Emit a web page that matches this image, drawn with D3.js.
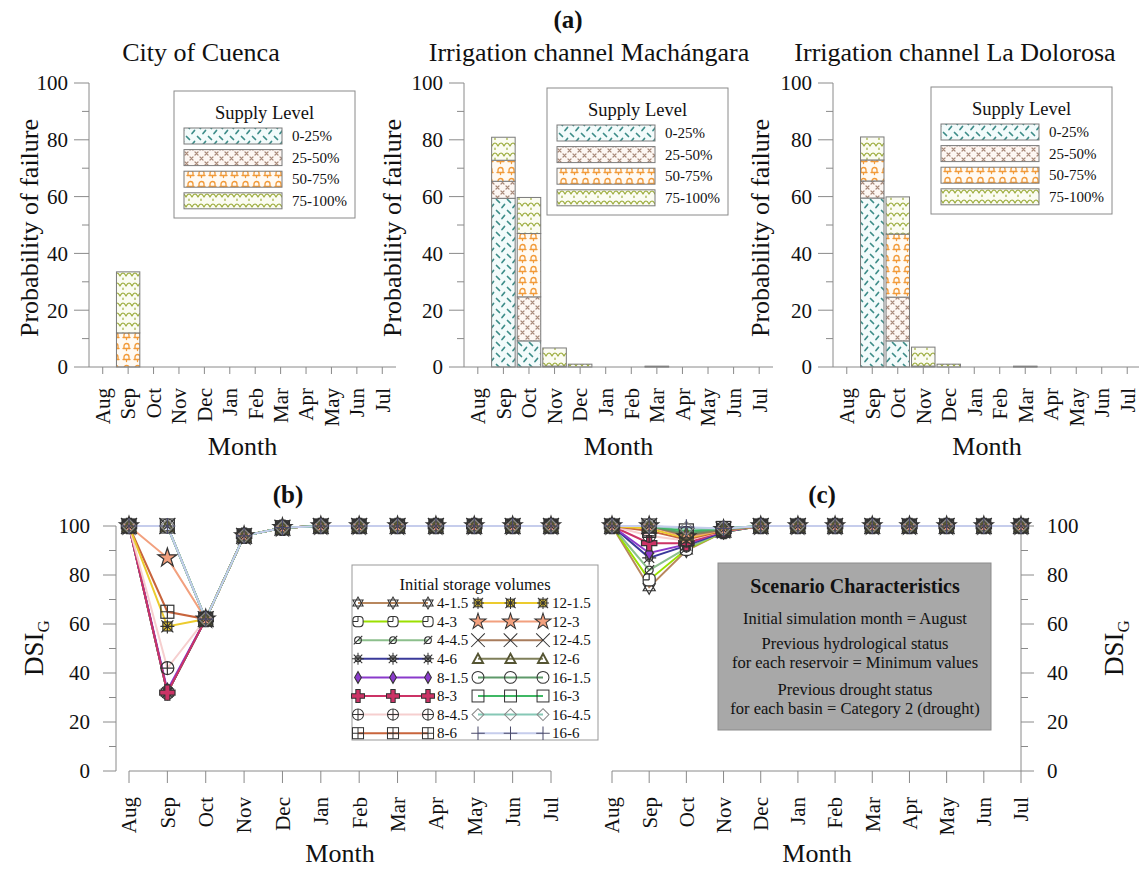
<!DOCTYPE html>
<html>
<head>
<meta charset="utf-8">
<script src="https://cdn.jsdelivr.net/npm/d3@7"></script>
<style>
  body { margin: 0; background: #fff; }
  text { font-family: "Liberation Serif", "Times New Roman", serif; fill: #111; }
</style>
</head>
<body>
<div class="canvas"></div>
<script>
const months = ["Aug", "Sep", "Oct", "Nov", "Dec", "Jan", "Feb", "Mar", "Apr", "May", "Jun", "Jul"];
const supplyLevels = ["0-25%", "25-50%", "50-75%", "75-100%"];
const pctTicks = [0, 20, 40, 60, 80, 100];

// probability of failure (%), one array per supply level
const cuenca0to25   = [0, 0, 0, 0, 0, 0, 0, 0, 0, 0, 0, 0];
const cuenca25to50  = [0, 0, 0, 0, 0, 0, 0, 0, 0, 0, 0, 0];
const cuenca50to75  = [0, 12, 0, 0, 0, 0, 0, 0, 0, 0, 0, 0];
const cuenca75to100 = [0, 21.5, 0, 0, 0, 0, 0, 0, 0, 0, 0, 0];

const mach0to25   = [0, 59.4, 9.2, 0.3, 0, 0, 0, 0.1, 0, 0, 0, 0];
const mach25to50  = [0, 6.0, 15.5, 0, 0, 0, 0, 0, 0, 0, 0, 0];
const mach50to75  = [0, 7.4, 22.3, 0, 0, 0, 0, 0, 0, 0, 0, 0];
const mach75to100 = [0, 8.1, 12.7, 6.4, 1.0, 0, 0, 0.2, 0, 0, 0, 0];

const dolo0to25   = [0, 59.5, 9.2, 0.3, 0, 0, 0, 0.1, 0, 0, 0, 0];
const dolo25to50  = [0, 6.0, 15.4, 0, 0, 0, 0, 0, 0, 0, 0, 0];
const dolo50to75  = [0, 7.4, 22.2, 0, 0, 0, 0, 0, 0, 0, 0, 0];
const dolo75to100 = [0, 8.1, 13.1, 6.7, 1.0, 0, 0, 0.2, 0, 0, 0, 0];

// DSI_G series, initial storage volumes
const storageVolumes = ["4-1.5", "4-3", "4-4.5", "4-6", "8-1.5", "8-3", "8-4.5", "8-6",
                        "12-1.5", "12-3", "12-4.5", "12-6", "16-1.5", "16-3", "16-4.5", "16-6"];

const dsiB = [
  [100, 32, 62, 96, 99.3, 100, 100, 100, 100, 100, 100, 100],
  [100, 32, 62, 96, 99.3, 100, 100, 100, 100, 100, 100, 100],
  [100, 32, 62, 96, 99.3, 100, 100, 100, 100, 100, 100, 100],
  [100, 32, 62, 96, 99.3, 100, 100, 100, 100, 100, 100, 100],
  [100, 33, 62, 96, 99.3, 100, 100, 100, 100, 100, 100, 100],
  [100, 32, 62, 96, 99.3, 100, 100, 100, 100, 100, 100, 100],
  [100, 42, 62, 96, 99.3, 100, 100, 100, 100, 100, 100, 100],
  [100, 65, 62, 96, 99.3, 100, 100, 100, 100, 100, 100, 100],
  [100, 59, 62, 96, 99.3, 100, 100, 100, 100, 100, 100, 100],
  [100, 87, 62, 96, 99.3, 100, 100, 100, 100, 100, 100, 100],
  [100, 100, 62, 96, 99.3, 100, 100, 100, 100, 100, 100, 100],
  [100, 100, 62, 96, 99.3, 100, 100, 100, 100, 100, 100, 100],
  [100, 100, 62, 96, 99.3, 100, 100, 100, 100, 100, 100, 100],
  [100, 100, 62, 96, 99.3, 100, 100, 100, 100, 100, 100, 100],
  [100, 100, 62, 96, 99.3, 100, 100, 100, 100, 100, 100, 100],
  [100, 100, 62, 96, 99.3, 100, 100, 100, 100, 100, 100, 100]
];

const dsiC = [
  [100, 75, 90, 97.5, 100, 100, 100, 100, 100, 100, 100, 100],
  [100, 78, 90.5, 97.5, 100, 100, 100, 100, 100, 100, 100, 100],
  [100, 82, 91, 97.5, 100, 100, 100, 100, 100, 100, 100, 100],
  [100, 87, 92, 97.5, 100, 100, 100, 100, 100, 100, 100, 100],
  [100, 89, 92.5, 98, 100, 100, 100, 100, 100, 100, 100, 100],
  [100, 93, 93, 98, 100, 100, 100, 100, 100, 100, 100, 100],
  [100, 96, 94, 98, 100, 100, 100, 100, 100, 100, 100, 100],
  [100, 98, 94.5, 98, 100, 100, 100, 100, 100, 100, 100, 100],
  [100, 99, 95, 98.5, 100, 100, 100, 100, 100, 100, 100, 100],
  [100, 100, 95.5, 98.5, 100, 100, 100, 100, 100, 100, 100, 100],
  [100, 100, 96, 98.5, 100, 100, 100, 100, 100, 100, 100, 100],
  [100, 100, 96.5, 98.5, 100, 100, 100, 100, 100, 100, 100, 100],
  [100, 100, 97, 99, 100, 100, 100, 100, 100, 100, 100, 100],
  [100, 100, 98, 99, 100, 100, 100, 100, 100, 100, 100, 100],
  [100, 100, 99, 99, 100, 100, 100, 100, 100, 100, 100, 100],
  [100, 100, 99.5, 99, 100, 100, 100, 100, 100, 100, 100, 100]
];

const scenarioLines = [
  "Initial simulation month = August",
  "Previous hydrological status",
  "for each reservoir = Minimum values",
  "Previous drought status",
  "for each basin = Category 2 (drought)"
];

// styles
const seriesColors = ["#b8875e", "#9be000", "#8cbf8c", "#3a3a9a", "#8a3acb", "#cc3366", "#f6cfcf", "#c8643c",
                      "#eccb2e", "#f2a07e", "#a87c5c", "#7f7f5a", "#5f9a6a", "#3fb864", "#86c8b6", "#c6cdec"];
const seriesMarkers = ["hexagram", "circleQ", "slash", "sun", "diamondF", "crossF", "circlePlus", "squareGrid",
                       "boxStar", "star", "x", "triangle", "circle", "square", "diamond", "plus"];
const axisGrey = "#8a8a8a";

const svg = d3.select(".canvas").append("svg").attr("width", 1139).attr("height", 870);
const defs = svg.append("defs");

let addPattern = (id, w, h, bg, d, color, sw) => {
  const p = defs.append("pattern").attr("id", id).attr("patternUnits", "userSpaceOnUse")
    .attr("width", w).attr("height", h);
  p.append("rect").attr("width", w).attr("height", h).attr("fill", bg);
  p.append("path").attr("d", d).attr("fill", "none").attr("stroke", color)
    .attr("stroke-width", sw).attr("stroke-linecap", "round");
};
addPattern("lv0", 11, 11, "#f3fbfb", "M1.5,1.5 L4.5,4.5 M7,9.5 L9.5,6.5", "#3c8c88", 1.7);
addPattern("lv1", 10, 10, "#fdf7f3", "M1,1 L4,4 M4,1 L1,4 M6,6 L9,9 M9,6 L6,9", "#a98a7a", 1.2);
addPattern("lv2", 11, 11, "#fffaf3", "M3,7.5 L3,5 A2.5,2.5 0 0 1 8,5 L8,7.5 M2,7.5 L9,7.5 M5.5,8 L5.5,9.5", "#f29a38", 1.3);
addPattern("lv3", 12, 10, "#fbfcf2", "M0,6 Q3,0 6,6 M6,6 Q9,0 12,6 M3,8 L3,9.5", "#9cac3c", 1.2);

// ---------- (a) bar panels ----------
svg.append("text").attr("x", 568).attr("y", 28).attr("text-anchor", "middle")
  .attr("font-size", 25).attr("font-weight", "bold").text("(a)");

const topPanels = [
  { title: "City of Cuenca", levels: [cuenca0to25, cuenca25to50, cuenca50to75, cuenca75to100],
    x0: 89, x1: 396, titleX: 201, ylabX: 38, legendX: 174, legendY: 91 },
  { title: "Irrigation channel Machángara", levels: [mach0to25, mach25to50, mach50to75, mach75to100],
    x0: 464, x1: 773, titleX: 589, ylabX: 401, legendX: 547, legendY: 88 },
  { title: "Irrigation channel La Dolorosa", levels: [dolo0to25, dolo25to50, dolo50to75, dolo75to100],
    x0: 833, x1: 1141, titleX: 955, ylabX: 769, legendX: 931, legendY: 87 }
];

const yTop = d3.scaleLinear().domain([0, 100]).range([367, 83]);

topPanels.forEach((p) => {
  const g = svg.append("g");
  const x = d3.scaleBand().domain(months).range([p.x0, p.x1]).padding(0.08);

  const table = months.map((m, i) => {
    const row = { month: m };
    supplyLevels.forEach((k, j) => { row[k] = p.levels[j][i]; });
    return row;
  });
  const stacked = d3.stack().keys(supplyLevels)(table);

  stacked.forEach((layer, j) => {
    g.append("g").selectAll("rect")
      .data(layer.filter((d) => d[1] - d[0] > 0))
      .enter()
      .append("rect")
      .attr("x", (d) => x(d.data.month))
      .attr("width", x.bandwidth())
      .attr("y", (d) => yTop(d[1]))
      .attr("height", (d) => yTop(d[0]) - yTop(d[1]))
      .attr("fill", "url(#lv" + j + ")")
      .attr("stroke", "#7a7a7a")
      .attr("stroke-width", 1);
  });

  // y axis
  g.append("line").attr("x1", p.x0).attr("x2", p.x0).attr("y1", yTop(100)).attr("y2", yTop(0))
    .attr("stroke", axisGrey);
  d3.range(0, 101, 10).forEach((v) => {
    const major = v % 20 == 0;
    g.append("line").attr("x1", p.x0 - (major ? 15 : 7)).attr("x2", p.x0)
      .attr("y1", yTop(v)).attr("y2", yTop(v)).attr("stroke", axisGrey);
  });
  pctTicks.forEach((v) => {
    g.append("text").attr("x", p.x0 - 21).attr("y", yTop(v)).attr("dy", "0.35em")
      .attr("text-anchor", "end").attr("font-size", 21).text(v);
  });

  // x axis
  g.append("line").attr("x1", p.x0).attr("x2", p.x1).attr("y1", yTop(0)).attr("y2", yTop(0))
    .attr("stroke", axisGrey);
  months.forEach((m) => {
    const cx = x(m) + x.bandwidth() / 2;
    g.append("line").attr("x1", cx).attr("x2", cx).attr("y1", yTop(0)).attr("y2", yTop(0) + 7)
      .attr("stroke", axisGrey);
    g.append("text").attr("transform", "translate(" + cx + ",388) rotate(-90)")
      .attr("dy", "0.35em").attr("text-anchor", "end").attr("font-size", 21).text(m);
  });

  g.append("text").attr("x", p.titleX).attr("y", 61).attr("text-anchor", "middle")
    .attr("font-size", 26).text(p.title);
  g.append("text").attr("x", (p.x0 + p.x1) / 2).attr("y", 455).attr("text-anchor", "middle")
    .attr("font-size", 26).text("Month");
  g.append("text").attr("transform", "translate(" + p.ylabX + ",228) rotate(-90)")
    .attr("text-anchor", "middle").attr("font-size", 26).text("Probability of failure");

  // legend
  const lg = g.append("g").attr("transform", "translate(" + p.legendX + "," + p.legendY + ")");
  lg.append("rect").attr("width", 181).attr("height", 127).attr("fill", "#fff").attr("stroke", axisGrey);
  lg.append("text").attr("x", 90.5).attr("y", 28).attr("text-anchor", "middle").attr("font-size", 18.5)
    .text("Supply Level");
  supplyLevels.forEach((k, j) => {
    const ry = 37 + j * 21.6;
    lg.append("rect").attr("x", 10).attr("y", ry).attr("width", 98).attr("height", 16)
      .attr("fill", "url(#lv" + j + ")").attr("stroke", "#7a7a7a");
    lg.append("text").attr("x", 118).attr("y", ry + 8).attr("dy", "0.35em").attr("font-size", 15).text(k);
  });
});

// ---------- markers ----------
let drawMarker = (g, type, color) => {
  const s = "#333";
  const add = (tag) => g.append(tag).attr("fill", "none").attr("stroke", s).attr("stroke-width", 1.2);
  switch (type) {
    case "hexagram":
      add("path").attr("d", "M0,-7 L6,3.5 L-6,3.5 Z M0,7 L6,-3.5 L-6,-3.5 Z").attr("fill", "#fff");
      break;
    case "circleQ":
      add("rect").attr("x", -6).attr("y", -6).attr("width", 12).attr("height", 12).attr("rx", 4).attr("fill", "#fff");
      add("path").attr("d", "M0,0 L0,-6 M0,0 L-6,0");
      break;
    case "slash":
      add("circle").attr("r", 4);
      add("path").attr("d", "M-5,5 L5,-5");
      break;
    case "sun":
      add("circle").attr("r", 3.5).attr("fill", "#fff");
      add("path").attr("d", "M-7,0 L7,0 M0,-7 L0,7 M-5,-5 L5,5 M-5,5 L5,-5");
      break;
    case "diamondF":
      add("path").attr("d", "M0,-7 L4,0 L0,7 L-4,0 Z").attr("fill", color);
      break;
    case "crossF":
      add("path").attr("d", d3.symbol().type(d3.symbolCross).size(130)()).attr("fill", color);
      break;
    case "circlePlus":
      add("circle").attr("r", 6.5);
      add("path").attr("d", "M-6.5,0 L6.5,0 M0,-6.5 L0,6.5");
      break;
    case "squareGrid":
      add("rect").attr("x", -6.5).attr("y", -6.5).attr("width", 13).attr("height", 13);
      add("path").attr("d", "M-6.5,0 L6.5,0 M0,-6.5 L0,6.5");
      break;
    case "boxStar":
      add("rect").attr("x", -4.5).attr("y", -4.5).attr("width", 9).attr("height", 9).attr("fill", color);
      add("path").attr("d", "M-7,0 L7,0 M0,-7 L0,7 M-6,-6 L6,6 M-6,6 L6,-6");
      break;
    case "star":
      add("path").attr("d", d3.symbol().type(d3.symbolStar).size(110)()).attr("fill", color);
      break;
    case "x":
      add("path").attr("d", "M-8,-8 L8,8 M-8,8 L8,-8");
      break;
    case "triangle":
      add("path").attr("d", "M0,-6 L6,5 L-6,5 Z").attr("stroke", "#555533").attr("stroke-width", 2.2);
      break;
    case "circle":
      add("circle").attr("r", 7);
      break;
    case "square":
      add("rect").attr("x", -7).attr("y", -7).attr("width", 14).attr("height", 14);
      break;
    case "diamond":
      add("path").attr("d", "M0,-7 L7,0 L0,7 L-7,0 Z").attr("stroke", "#888");
      break;
    case "plus":
      add("path").attr("d", "M-8,0 L8,0 M0,-8 L0,8").attr("stroke", "#4a4a6a");
      break;
  }
};

// ---------- (b) and (c) line panels ----------
const yLow = d3.scaleLinear().domain([0, 100]).range([771, 526]);

const lowPanels = [
  { label: "(b)", labelX: 288, values: dsiB, x0: 129, x1: 551, axisX: 116, side: "left", dsiX: 43, monthX: 340 },
  { label: "(c)", labelX: 822, values: dsiC, x0: 612, x1: 1021, axisX: 1021, side: "right", dsiX: 1123, monthX: 817 }
];

lowPanels.forEach((p) => {
  const g = svg.append("g");
  const x = d3.scalePoint().domain(months).range([p.x0, p.x1]);
  const dir = p.side == "left" ? -1 : 1;

  g.append("text").attr("x", p.labelX).attr("y", 503).attr("text-anchor", "middle")
    .attr("font-size", 25).attr("font-weight", "bold").text(p.label);

  // y axis
  g.append("line").attr("x1", p.axisX).attr("x2", p.axisX).attr("y1", yLow(100)).attr("y2", yLow(0))
    .attr("stroke", axisGrey);
  d3.range(0, 101, 10).forEach((v) => {
    const major = v % 20 == 0;
    g.append("line").attr("x1", p.axisX).attr("x2", p.axisX + dir * (major ? 13 : 7))
      .attr("y1", yLow(v)).attr("y2", yLow(v)).attr("stroke", axisGrey);
  });
  pctTicks.forEach((v) => {
    g.append("text").attr("x", p.axisX + dir * 26).attr("y", yLow(v)).attr("dy", "0.35em")
      .attr("text-anchor", p.side == "left" ? "end" : "start").attr("font-size", 21).text(v);
  });
  const dl = g.append("text").attr("transform", "translate(" + p.dsiX + ",648) rotate(-90)")
    .attr("text-anchor", "middle").attr("font-size", 27);
  dl.append("tspan").text("DSI");
  dl.append("tspan").attr("font-size", 17).attr("dy", 6).text("G");

  // x axis
  g.append("line").attr("x1", p.x0).attr("x2", p.x1).attr("y1", yLow(0)).attr("y2", yLow(0))
    .attr("stroke", axisGrey);
  months.forEach((m) => {
    g.append("line").attr("x1", x(m)).attr("x2", x(m)).attr("y1", yLow(0)).attr("y2", yLow(0) + 12)
      .attr("stroke", axisGrey);
    g.append("text").attr("transform", "translate(" + x(m) + ",797) rotate(-90)")
      .attr("dy", "0.35em").attr("text-anchor", "end").attr("font-size", 21).text(m);
  });
  g.append("text").attr("x", p.monthX).attr("y", 862).attr("text-anchor", "middle")
    .attr("font-size", 26).text("Month");

  // series
  const line = d3.line().x((d, i) => x(months[i])).y((d) => yLow(d));
  p.values.forEach((vals, k) => {
    g.append("path").datum(vals).attr("d", line).attr("fill", "none")
      .attr("stroke", seriesColors[k]).attr("stroke-width", 2);
  });
  p.values.forEach((vals, k) => {
    vals.forEach((v, i) => {
      const mg = g.append("g").attr("transform", "translate(" + x(months[i]) + "," + yLow(v) + ")");
      drawMarker(mg, seriesMarkers[k], seriesColors[k]);
    });
  });
});

// legend of (b)
const leg = svg.append("g").attr("transform", "translate(352,565)");
leg.append("rect").attr("width", 246).attr("height", 175).attr("fill", "#fff").attr("stroke", "#999");
leg.append("text").attr("x", 123).attr("y", 25).attr("text-anchor", "middle").attr("font-size", 16.5)
  .text("Initial storage volumes");
storageVolumes.forEach((name, k) => {
  const col = Math.floor(k / 8);
  const row = k % 8;
  const ly = 38 + row * 18.6;
  const lx0 = col == 0 ? 6 : 126;
  const lx1 = col == 0 ? 76 : 191;
  leg.append("line").attr("x1", lx0).attr("x2", lx1).attr("y1", ly).attr("y2", ly)
    .attr("stroke", seriesColors[k]).attr("stroke-width", 2);
  [lx0, (lx0 + lx1) / 2, lx1].forEach((mx) => {
    const mg = leg.append("g").attr("transform", "translate(" + mx + "," + ly + ") scale(0.85)");
    drawMarker(mg, seriesMarkers[k], seriesColors[k]);
  });
  leg.append("text").attr("x", lx1 + 9).attr("y", ly).attr("dy", "0.35em").attr("font-size", 15).text(name);
});

// scenario box of (c)
const sc = svg.append("g").attr("transform", "translate(718,563)");
sc.append("rect").attr("width", 273).attr("height", 167).attr("fill", "#a8a8a8").attr("stroke", "#8c8c8c");
sc.append("text").attr("x", 137).attr("y", 30).attr("text-anchor", "middle").attr("font-size", 20)
  .attr("font-weight", "bold").text("Scenario Characteristics");
const lineY = [61, 86, 105, 132, 151];
scenarioLines.forEach((t, i) => {
  sc.append("text").attr("x", 137).attr("y", lineY[i]).attr("text-anchor", "middle")
    .attr("font-size", 16.5).text(t);
});
</script>
</body>
</html>
